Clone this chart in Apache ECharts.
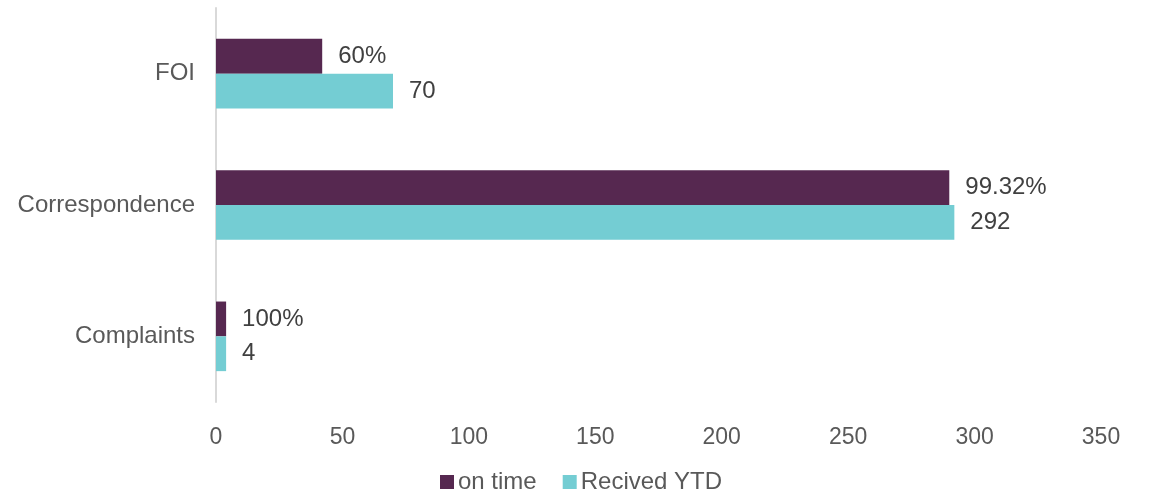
<!DOCTYPE html>
<html>
<head>
<meta charset="utf-8">
<script src="https://cdn.jsdelivr.net/npm/echarts@6/dist/echarts.min.js"></script>
<style>html,body{margin:0;padding:0;background:#fff;}#c{width:1150px;height:493px;}</style>
</head>
<body>
<div id="c"></div>
<script>
var categories = ['Complaints', 'Correspondence', 'FOI'];
var onTime = [4, 290, 42];
var onTimeLabels = ['100%', '99.32%', '60%'];
var received = [4, 292, 70];
var xTicks = { min: 0, max: 350, interval: 50 };

var font = 'Liberation Sans, Arial, sans-serif';
var chart = echarts.init(document.getElementById('c'));
chart.setOption({
  animation: false,
  textStyle: { fontFamily: font },
  grid: { left: 216, right: 49, top: 8, bottom: 91 },
  legend: {
    data: ['on time', 'Recived YTD'],
    bottom: -6, left: 435,
    itemWidth: 14, itemHeight: 14, itemGap: 26,
    icon: 'rect',
    textStyle: { fontSize: 24, color: '#595959', fontFamily: font, padding: [0, 0, 0, -1] }
  },
  xAxis: {
    type: 'value', min: xTicks.min, max: xTicks.max, interval: xTicks.interval,
    axisLine: { show: false }, axisTick: { show: false }, splitLine: { show: false },
    axisLabel: { fontSize: 23, color: '#595959', margin: 24, fontFamily: font }
  },
  yAxis: {
    type: 'category', data: categories,
    axisLine: { show: true, lineStyle: { color: '#d9d9d9', width: 2 } },
    axisTick: { show: false },
    axisLabel: { fontSize: 24, color: '#595959', margin: 21, fontFamily: font }
  },
  series: [
    {
      name: 'on time', type: 'bar', data: onTime,
      barGap: '0%', barCategoryGap: '47%',
      itemStyle: { color: '#562850' },
      label: { show: true, position: 'right', distance: 16, fontSize: 24, color: '#404040', fontFamily: font,
        formatter: function (p) { return onTimeLabels[p.dataIndex]; } }
    },
    {
      name: 'Recived YTD', type: 'bar', data: received,
      barGap: '0%', barCategoryGap: '47%',
      itemStyle: { color: '#74CDD3' },
      label: { show: true, position: 'right', distance: 16, fontSize: 24, color: '#404040', fontFamily: font }
    }
  ]
});
</script>
</body>
</html>
